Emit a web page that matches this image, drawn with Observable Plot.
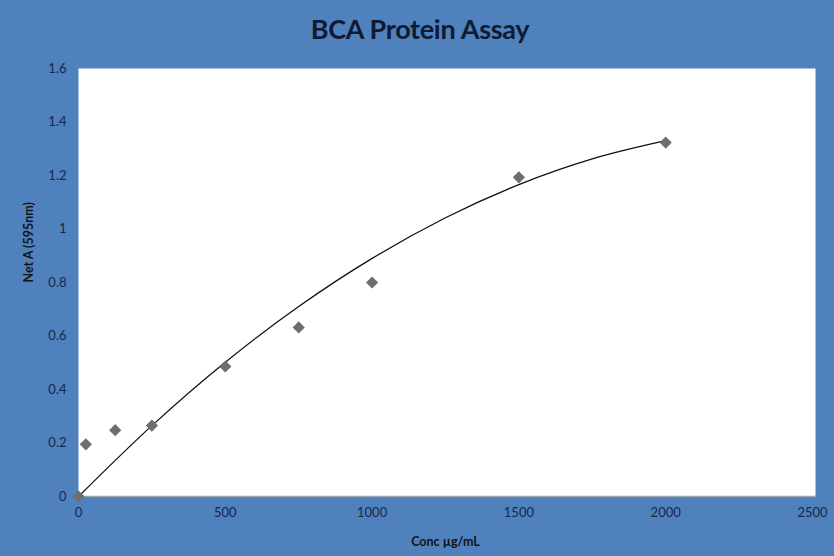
<!DOCTYPE html>
<html>
<head>
<meta charset="utf-8">
<script src="https://cdn.jsdelivr.net/npm/d3@7"></script>
<script src="https://cdn.jsdelivr.net/npm/@observablehq/plot@0.6"></script>
<style>
  html, body { margin: 0; padding: 0; background: #4F81BD; }
  #wrap { width: 834px; height: 556px; background: #4F81BD; position: relative; overflow: hidden; }
  #title { height: 50px; line-height: 58px; text-align: center; font-family: Lato, "Open Sans", sans-serif; font-weight: bold; font-size: 27px; color: #0f1a33; padding-left: 6px; letter-spacing: -0.3px; }
</style>
</head>
<body>
<div id="wrap">
  <div id="title">BCA Protein Assay</div>
  <div id="chart"></div>
</div>
<script>
// measured points
const conc = [0, 25, 125, 250, 500, 750, 1000, 1500, 2000];
const absorbance = [0, 0.195, 0.248, 0.265, 0.486, 0.632, 0.80, 1.193, 1.323];
// trendline
const trendConc = [0, 250, 500, 750, 1000, 1250, 1500, 1750, 2000];
const trendAbs = [0, 0.265, 0.502, 0.710, 0.890, 1.042, 1.166, 1.262, 1.330];
const xTicks = [0, 500, 1000, 1500, 2000, 2500];
const yTicks = [0, 0.2, 0.4, 0.6, 0.8, 1, 1.2, 1.4, 1.6];

const points = conc.map((c, i) => ({c, a: absorbance[i]}));
const trend = trendConc.map((c, i) => ({c, a: trendAbs[i]}));

const tickColor = "#17274a";
const chart = Plot.plot({
  width: 834,
  height: 506,
  marginLeft: 78,
  marginRight: 22,
  marginTop: 18,
  marginBottom: 60,
  style: { background: "transparent", fontFamily: "Lato, 'Open Sans', sans-serif", fontSize: "13px", color: tickColor },
  x: { domain: [0, 2500], ticks: xTicks, tickSize: 0, tickPadding: 11, tickFormat: d => String(d), label: null },
  y: { domain: [0, 1.6], ticks: yTicks, tickSize: 0, tickPadding: 12, tickFormat: d => String(+d.toFixed(1)), label: null },
  marks: [
    Plot.frame({ fill: "white", stroke: null, insetRight: -3 }),
    Plot.frame({ anchor: "bottom", stroke: "#9aa3ad", strokeWidth: 1.5, insetRight: -3 }),
    Plot.line(trend, { x: "c", y: "a", stroke: "#111", strokeWidth: 1.3, curve: "monotone-x" }),
    Plot.dot(points, { x: "c", y: "a", symbol: "diamond2", fill: "#6e6e6e", stroke: null, r: 5.5 }),
    Plot.axisX({ ticks: xTicks, tickSize: 0, tickPadding: 11, tickFormat: d => String(d), label: null, fontSize: 13 }),
    Plot.axisY({ ticks: yTicks, tickSize: 0, tickPadding: 12, tickFormat: d => String(+d.toFixed(1)), label: null, fontSize: 13 }),
    Plot.text(["Conc µg/mL"], { frameAnchor: "bottom", dy: 49, fontWeight: "bold", fontSize: 12.5, fill: "#141414" }),
    Plot.text(["Net A (595nm)"], { frameAnchor: "left", dx: -50, rotate: -90, fontWeight: "bold", fontSize: 12.5, fill: "#141414" })
  ]
});
document.getElementById("chart").appendChild(chart);
</script>
</body>
</html>
